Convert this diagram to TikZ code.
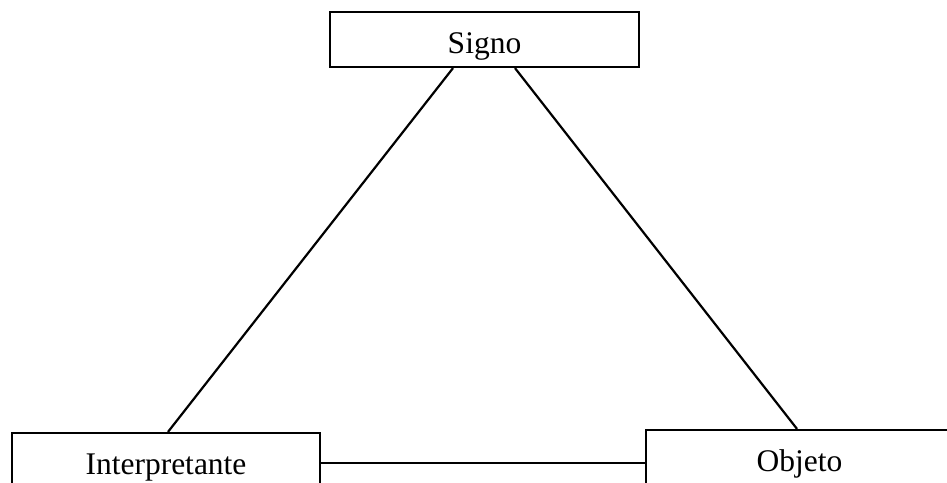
\documentclass[tikz,border=0pt]{standalone}
\usepackage{fontspec}
\setmainfont{Liberation Serif}
\begin{document}
\begin{tikzpicture}[x=1pt,y=-1pt,
  box/.style={draw=black, line width=2.2pt, fill=white, inner sep=0pt,
    minimum height=55pt, text height=28pt, text depth=0pt,
    font=\fontsize{31.5}{36}\selectfont},
  link/.style={draw=black, line width=2.2pt}]
\clip (0,0) rectangle (947,482);
\fill[white] (0,0) rectangle (947,482);
\node[box, minimum width=309pt] (signo) at (484.5,39.5) {Signo};
\node[box, minimum width=308pt] (interp) at (166,460.5) {Interpretante};
\node[box, minimum width=307pt] (objeto) at (799.5,457.5) {Objeto};
\draw[link] ([xshift=-31.5pt]signo.south) -- ([xshift=2pt]interp.north);
\draw[link] ([xshift=30.5pt]signo.south) -- ([xshift=-2.5pt]objeto.north);
\draw[link] ([yshift=-2.5pt]interp.east) -- ([yshift=-2.5pt]interp.east -| objeto.west);
\end{tikzpicture}
\end{document}
